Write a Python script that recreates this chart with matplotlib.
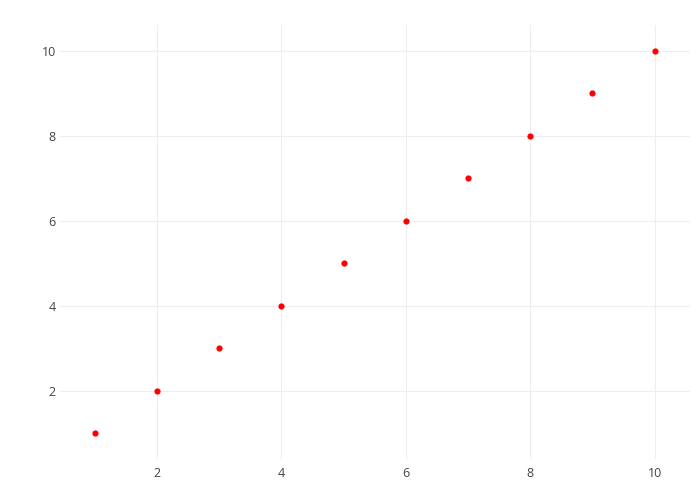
import matplotlib.pyplot as plt

# data
x_vals = [1, 2, 3, 4, 5, 6, 7, 8, 9, 10]
y_vals = [1, 2, 3, 4, 5, 6, 7, 8, 9, 10]
x_ticks = [2, 4, 6, 8, 10]
y_ticks = [2, 4, 6, 8, 10]

plt.rcParams['font.family'] = ['Open Sans', 'DejaVu Sans']

fig = plt.figure(figsize=(7, 5), dpi=100)
ax = fig.add_axes([60 / 700, 41 / 500, 630 / 700, 434 / 500])

ax.scatter(x_vals, y_vals, s=20, color='#ff0000', linewidths=0, zorder=3)

ax.set_xlim(0.44, 10.57)
ax.set_ylim(0.4, 10.6)
ax.set_xticks(x_ticks)
ax.set_yticks(y_ticks)

# plotly-like styling
for s in ax.spines.values():
    s.set_visible(False)
ax.grid(True, color='#eeeeee', linewidth=0.8)
ax.set_axisbelow(True)
ax.tick_params(length=0, labelsize=9, labelcolor='#444444')
ax.tick_params(axis='x', pad=6)
ax.tick_params(axis='y', pad=3)

fig.savefig('out.png', dpi=100)
